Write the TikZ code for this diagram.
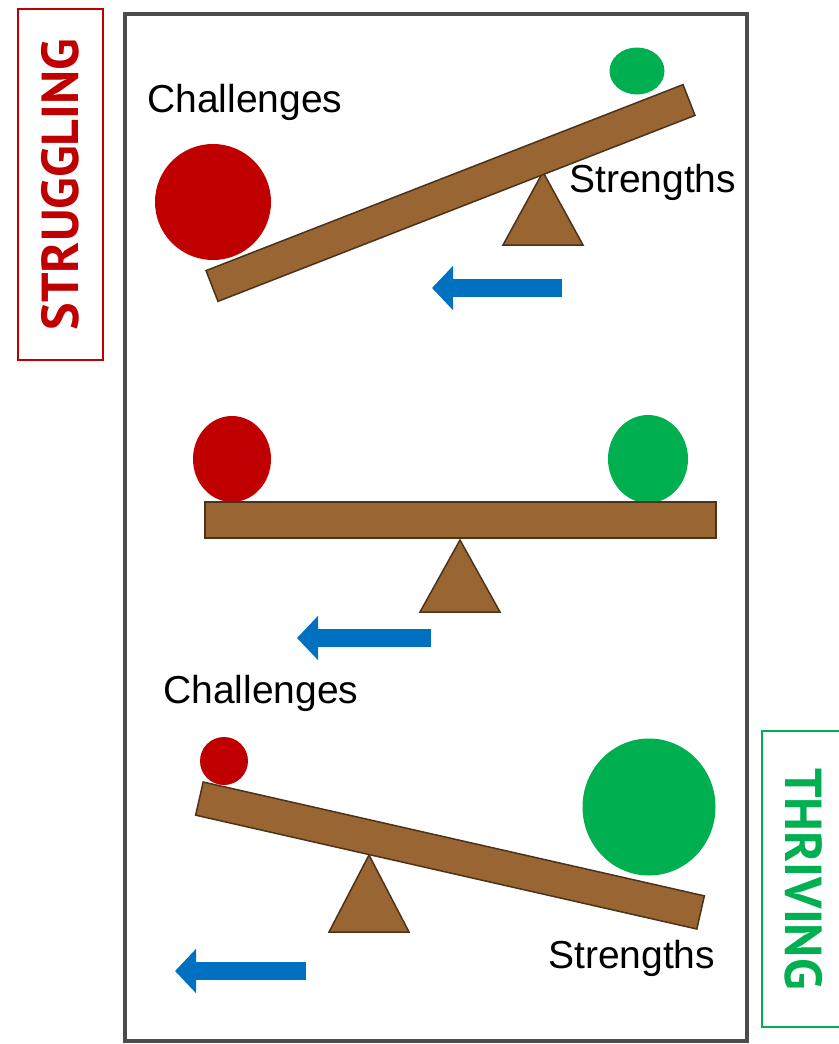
\documentclass[tikz,border=0pt]{standalone}
\usepackage{fontspec}
\setmainfont{Liberation Sans}
\newfontfamily\sidefont{PT Sans}
\usetikzlibrary{shapes.geometric,arrows.meta}

\definecolor{plankBrown}{RGB}{153,102,51}
\definecolor{plankEdge}{RGB}{75,50,25}
\definecolor{challengeRed}{RGB}{192,0,0}
\definecolor{strengthGreen}{RGB}{0,176,80}
\definecolor{pushBlue}{RGB}{0,112,192}

\tikzstyle{frame} = [draw=black!70, line width=3.5pt]
\tikzstyle{plank} = [rectangle, draw=plankEdge, line width=1.5pt, fill=plankBrown, inner sep=0pt]
\tikzstyle{fulcrum} = [draw=plankEdge, line width=1.5pt, fill=plankBrown, line join=miter]
\tikzstyle{challengeBall} = [ellipse, fill=challengeRed, inner sep=0pt]
\tikzstyle{strengthBall} = [ellipse, fill=strengthGreen, inner sep=0pt]
\tikzstyle{pushArrow} = [draw=pushBlue, line width=18pt, -{Triangle[length=21pt,width=43pt]}]
\tikzstyle{caption} = [inner sep=0pt, font=\fontsize{39}{39}\selectfont]
\tikzstyle{sideLabel} = [rectangle, line width=2pt, inner sep=0pt, font=\sidefont\bfseries\fontsize{52}{52}\selectfont]

\begin{document}
\begin{tikzpicture}[x=1pt, y=-1pt]
	\useasboundingbox (0,0) rectangle (838,1044);

	\draw [frame] (125,14) rectangle (747,1041);

	% side labels
	\node (struggling) [sideLabel, draw=challengeRed, text=challengeRed, rotate=90, minimum width=351pt, minimum height=85pt] at (60.5,184.5) {STRUGGLING};
	\node (thriving) [sideLabel, draw=strengthGreen, text=strengthGreen, rotate=-90, minimum width=296pt, minimum height=83pt] at (803.5,879) {THRIVING};

	% top seesaw: challenges outweigh strengths
	\draw [fulcrum] (543,172) -- (503,245) -- (583,245) -- cycle;
	\node (bigChallengeTop) [challengeBall, minimum width=116pt, minimum height=116pt] at (213,202) {};
	\node (smallStrengthTop) [strengthBall, minimum width=55pt, minimum height=47pt] at (637,71) {};
	\node (plankTop) [plank, minimum width=512pt, minimum height=33pt, rotate=21.3] at (450.5,193) {};
	\node (challengesTop) [caption, anchor=base west] at (147,112) {Challenges};
	\node (strengthsTop) [caption, anchor=base west] at (569,192) {Strengths};
	\coordinate (arrowTopTail) at (562,288);
	\coordinate (arrowTopTip) at (432,288);
	\draw [pushArrow] (arrowTopTail) -- (arrowTopTip);

	% middle seesaw: balanced
	\draw [fulcrum] (460,540) -- (420,612) -- (500,612) -- cycle;
	\node (challengeMid) [challengeBall, minimum width=78pt, minimum height=86pt] at (232,459) {};
	\node (strengthMid) [strengthBall, minimum width=80pt, minimum height=88pt] at (648,459) {};
	\node (plankMid) [plank, minimum width=511pt, minimum height=36pt] at (460.5,520) {};
	\coordinate (arrowMidTail) at (431,638);
	\coordinate (arrowMidTip) at (297,638);
	\draw [pushArrow] (arrowMidTail) -- (arrowMidTip);
	\node (challengesMid) [caption, anchor=base west] at (163,703) {Challenges};

	% bottom seesaw: strengths outweigh challenges
	\draw [fulcrum] (369,855) -- (329,932) -- (409,932) -- cycle;
	\node (smallChallengeBot) [challengeBall, minimum width=48pt, minimum height=48pt] at (224,761) {};
	\node (bigStrengthBot) [strengthBall, minimum width=133pt, minimum height=137pt] at (649,807) {};
	\node (plankBot) [plank, minimum width=514pt, minimum height=34pt, rotate=-12.8] at (450,855.5) {};
	\node (strengthsBot) [caption, anchor=base west] at (548,968) {Strengths};
	\coordinate (arrowBotTail) at (306,971);
	\coordinate (arrowBotTip) at (175,971);
	\draw [pushArrow] (arrowBotTail) -- (arrowBotTip);

\end{tikzpicture}
\end{document}
